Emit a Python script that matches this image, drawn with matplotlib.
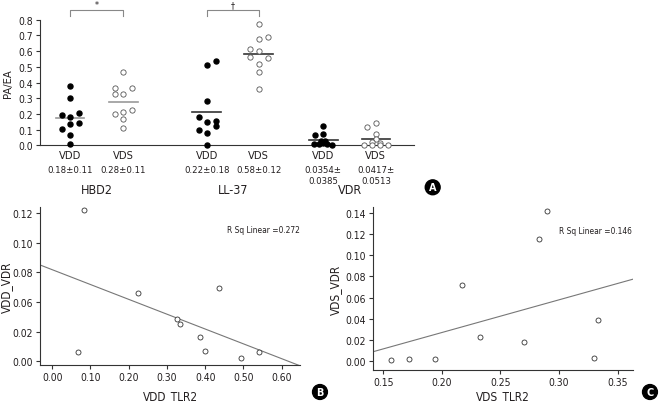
import numpy as np
import matplotlib.pyplot as plt

plt.rcParams['font.family'] = ['DejaVu Sans']
plt.rcParams['font.stretch'] = 'condensed'
plt.rcParams['axes.edgecolor'] = '#333333'
plt.rcParams['xtick.color'] = '#333333'
plt.rcParams['ytick.color'] = '#333333'

TXT = '#231f20'

# Panel A: PA/EA per group
group_names = ['HBD2', 'LL-37', 'VDR']
sub_names = ['VDD', 'VDS', 'VDD', 'VDS', 'VDD', 'VDS']
sub_stats = ['0.18±0.11', '0.28±0.11', '0.22±0.18', '0.58±0.12',
             '0.0354±\n0.0385', '0.0417±\n0.0513']
sig_marks = ['*', '†']

hbd2_vdd = [0.375, 0.301, 0.193, 0.180, 0.208, 0.106, 0.134, 0.142, 0.068, 0.008]
hbd2_vds = [0.467, 0.365, 0.363, 0.325, 0.325, 0.197, 0.214, 0.227, 0.168, 0.108]
ll37_vdd = [0.511, 0.539, 0.284, 0.178, 0.146, 0.157, 0.099, 0.121, 0.078, 0.004]
ll37_vds = [0.773, 0.677, 0.688, 0.613, 0.602, 0.561, 0.558, 0.518, 0.469, 0.359]
vdr_vdd = [0.121, 0.066, 0.069, 0.028, 0.025, 0.017, 0.007, 0.006, 0.006, 0.002]
vdr_vds = [0.141, 0.115, 0.071, 0.039, 0.023, 0.018, 0.003, 0.002, 0.002, 0.001]

# horizontal jitter of each point (pixels)
jit_hbd2_vdd = [0, 0, -8, 0, 9, -8, 0, 9, 0, 0]
jit_hbd2_vds = [0, -8, 9, -8, 0, -8, 0, 9, 0, 0]
jit_ll37_vdd = [0, 9, 0, -8, 0, 9, -8, 9, 0, 0]
jit_ll37_vds = [0, 0, 9, -9, 0, -9, 9, 0, 0, 0]
jit_vdr_vdd = [0, -8, 0, -2, 2, 0, -4, 4, -9, 9]
jit_vdr_vds = [0, -9, 0, 0, -4, 4, -12, -4, 4, 12]

# Panel B: VDD
vdd_tlr2 = [0.083, 0.068, 0.225, 0.325, 0.335, 0.386, 0.399, 0.436, 0.493, 0.540]
vdd_vdr = [0.1219, 0.0075, 0.055, 0.0345, 0.030, 0.020, 0.008, 0.059, 0.0024, 0.0075]
vdd_yticklabels = ['0.00', '0.02', '0.06', '0.08', '0.10', '0.12']

# Panel C: VDS
vds_tlr2 = [0.1563, 0.172, 0.194, 0.217, 0.233, 0.270, 0.2826, 0.290, 0.330, 0.3335]
vds_vdr = [0.0012, 0.002, 0.002, 0.072, 0.0232, 0.0182, 0.1154, 0.1415, 0.0028, 0.039]

fig = plt.figure(figsize=(6.6, 4.02), dpi=100)

# ---------------- Panel A ----------------
axA = fig.add_axes([0.0606, 0.636, 0.5667, 0.3124])
px = 1 / 53.0
pos = [0, 1.006, 2.58, 3.56, 4.78, 5.77]
series = [hbd2_vdd, hbd2_vds, ll37_vdd, ll37_vds, vdr_vdd, vdr_vds]
jits = [jit_hbd2_vdd, jit_hbd2_vds, jit_ll37_vdd, jit_ll37_vds, jit_vdr_vdd, jit_vdr_vds]
filled = [True, False, True, False, True, False]
line_cols = ['#999999', '#999999', '#333333', '#333333', '#333333', '#333333']

for p, vals, jit, f, lc in zip(pos, series, jits, filled, line_cols):
    xs = p + np.array(jit) * px
    if f:
        axA.plot(xs, vals, 'o', ms=3.6, color='black', clip_on=False, zorder=3)
    else:
        axA.plot(xs, vals, 'o', ms=3.8, mfc='white', mec='#555555', mew=0.6,
                 clip_on=False, zorder=3)
    m = np.mean(vals)
    axA.plot([p - 0.27, p + 0.27], [m, m], color=lc, lw=1.2, zorder=2)

trans = axA.get_xaxis_transform()
for p, name, st in zip(pos, sub_names, sub_stats):
    axA.text(p, -0.077, name, transform=trans, ha='center', va='center',
             fontsize=8, color=TXT)
    axA.text(p, -0.155, st, transform=trans, ha='center', va='top',
             fontsize=6.8, color=TXT, linespacing=1.35)

for i, g in enumerate(group_names):
    gx = (pos[2 * i] + pos[2 * i + 1]) / 2
    axA.text(gx, -0.352, g, transform=trans, ha='center', va='center',
             fontsize=9, color=TXT)

for i, s in enumerate(sig_marks):
    x0, x1 = pos[2 * i], pos[2 * i + 1]
    axA.plot([x0, x0, x1, x1], [1.027, 1.075, 1.075, 1.027], transform=trans,
             color='#888888', lw=0.8, clip_on=False)
    axA.text((x0 + x1) / 2, 1.12, s, transform=trans, ha='center', va='center',
             fontsize=6.5, color=TXT)

axA.set_xlim(-0.566, 6.49)
axA.set_ylim(0, 0.8)
axA.set_yticks(np.arange(0, 0.81, 0.1))
axA.set_yticklabels(['%.1f' % v for v in np.arange(0, 0.81, 0.1)])
axA.set_xticks([])
axA.spines['top'].set_visible(False)
axA.spines['right'].set_visible(False)
axA.tick_params(axis='y', labelsize=7.5, length=3, width=0.8, labelcolor=TXT, pad=2)
axA.set_ylabel('PA/EA', fontsize=8, color=TXT)
axA.yaxis.set_label_coords(-0.072, 0.5)


def scatter_panel(ax, x, y, r2, xlabel, ylabel):
    ax.plot(x, y, 'o', ms=3.6, mfc='white', mec='#333333', mew=0.6, zorder=3)
    k, b = np.polyfit(x, y, 1)
    xl = np.array(ax.get_xlim())
    ax.plot(xl, k * xl + b, color='#777777', lw=0.8, zorder=2)
    ax.set_xlim(xl)
    ax.text(0.718, 0.86, 'R Sq Linear =' + r2, transform=ax.transAxes,
            ha='left', va='center', fontsize=6, color=TXT)
    ax.spines['top'].set_visible(False)
    ax.spines['right'].set_visible(False)
    ax.tick_params(labelsize=7.5, length=3, width=0.8, labelcolor=TXT, pad=2)
    ax.set_xlabel(xlabel, fontsize=8.5, color=TXT)
    ax.set_ylabel(ylabel, fontsize=8.5, color=TXT)


# ---------------- Panel B ----------------
axB = fig.add_axes([0.0606, 0.0896, 0.394, 0.393])
axB.set_xlim(-0.032, 0.648)
axB.set_ylim(-0.003, 0.1247)
scatter_panel(axB, vdd_tlr2, vdd_vdr, '0.272', 'VDD_TLR2', 'VDD_VDR')
axB.set_xticks(np.arange(0, 0.61, 0.1))
axB.set_xticklabels(['%.2f' % v for v in np.arange(0, 0.61, 0.1)])
axB.set_yticks(np.linspace(0, 0.12, 6))
axB.set_yticklabels(vdd_yticklabels)
axB.yaxis.set_label_coords(-0.105, 0.5)
axB.xaxis.set_label_coords(0.5, -0.152)

# ---------------- Panel C ----------------
axC = fig.add_axes([0.5647, 0.0779, 0.394, 0.404])
axC.set_xlim(0.141, 0.363)
axC.set_ylim(-0.008, 0.145)
scatter_panel(axC, vds_tlr2, vds_vdr, '0.146', 'VDS_TLR2', 'VDS_VDR')
axC.set_xticks(np.arange(0.15, 0.36, 0.05))
axC.set_xticklabels(['%.2f' % v for v in np.arange(0.15, 0.36, 0.05)])
axC.set_yticks(np.arange(0, 0.141, 0.02))
axC.set_yticklabels(['%.2f' % v for v in np.arange(0, 0.141, 0.02)])
axC.yaxis.set_label_coords(-0.12, 0.5)
axC.xaxis.set_label_coords(0.5, -0.119)

# panel badges
for lx, ly, letter in [(0.6556, 0.5316, 'A'), (0.4848, 0.0224, 'B'), (0.9848, 0.0224, 'C')]:
    fig.text(lx, ly, letter, ha='center', va='center', fontsize=7, color='white',
             fontweight='bold', fontstretch='normal',
             bbox=dict(boxstyle='circle,pad=0.25', fc='black', ec='black'))

fig.savefig('out.png', dpi=100)
